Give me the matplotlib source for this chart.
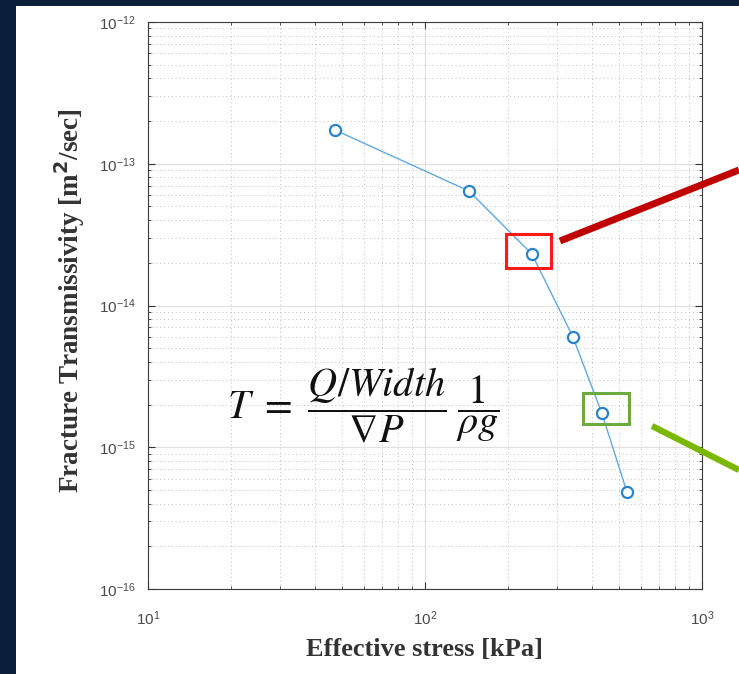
import numpy as np
import matplotlib.pyplot as plt
from matplotlib.patches import Rectangle
from matplotlib.lines import Line2D
from matplotlib.ticker import LogLocator, NullFormatter, FuncFormatter

# Measured values
stress_kpa = [47.3, 144, 243, 342, 435, 536]
transmissivity = [1.73e-13, 6.43e-14, 2.31e-14, 6.0e-15, 1.74e-15, 4.83e-16]

# Highlighted points (index into the series)
red_idx = 2
green_idx = 4

navy = (11 / 255, 31 / 255, 58 / 255)

plt.rcParams['mathtext.fontset'] = 'custom'
plt.rcParams['mathtext.rm'] = 'Liberation Sans'
plt.rcParams['mathtext.it'] = 'Liberation Sans'
plt.rcParams['font.family'] = 'Liberation Sans'

fig = plt.figure(figsize=(7.39, 6.74), dpi=100)
fig.patch.set_facecolor(navy)

# White panel behind the plot
fig.patches.append(Rectangle((16 / 739, 0), 1, 1 - 6 / 674, transform=fig.transFigure,
                             facecolor='white', edgecolor='none', zorder=-5))

ax = fig.add_axes([148 / 739, 1 - 589 / 674, 554 / 739, 567 / 674])
ax.set_facecolor('white')
ax.set_xscale('log')
ax.set_yscale('log')
ax.set_xlim(10, 1000)
ax.set_ylim(1e-16, 1e-12)

# Grid, MATLAB style
ax.grid(True, which='major', color='#e0e0e0', linewidth=0.9, linestyle='-')
ax.grid(True, which='minor', color='#bdbdbd', linewidth=0.7, linestyle=(0, (1, 3)))
ax.yaxis.set_minor_locator(LogLocator(base=10, subs=np.arange(2, 10), numticks=20))
ax.yaxis.set_minor_formatter(NullFormatter())
ax.set_axisbelow(True)

pow_fmt = FuncFormatter(lambda v, pos: r'$\mathregular{10^{%d}}$' % round(np.log10(v)))
ax.xaxis.set_major_formatter(pow_fmt)
ax.yaxis.set_major_formatter(pow_fmt)

ax.tick_params(which='both', direction='in', top=True, right=True, colors='#333333',
               labelsize=11, labelcolor='#4a4a4a')
ax.tick_params(which='major', length=5)
ax.tick_params(which='minor', length=2.5)
ax.tick_params(axis='x', pad=15)
ax.tick_params(axis='y', pad=9)
for s in ax.spines.values():
    s.set_color('#3a3a3a')
    s.set_linewidth(0.8)

ax.plot(stress_kpa, transmissivity, color='#62a8df', linewidth=1.0, marker='o',
        markersize=8, markerfacecolor='white', markeredgecolor='#2a82c9',
        markeredgewidth=1.6, zorder=3)

ax.set_xlabel('Effective stress [kPa]', family='Liberation Serif', fontweight='bold',
              fontsize=19, color='#333333', va='center')
ax.set_ylabel('Fracture Transmissivity [m$^\\mathbf{2}$/sec]', family='Liberation Serif',
              fontweight='bold', fontsize=19.5, color='#333333', va='center')
ax.xaxis.set_label_coords(0.5, -0.106)
ax.yaxis.set_label_coords(-0.141, 0.508)

# Equation
ax.text(0.388, 0.323, r'$T\ =\ \dfrac{Q/Width}{\nabla P}\;\dfrac{1}{\rho g}$',
        transform=ax.transAxes, fontsize=29, ha='center', va='center', color='#111111',
        math_fontfamily='stix')

# Highlight boxes around points, sized in pixels
def box(idx, w, h, dx, dy, color):
    x, y = ax.transData.transform((stress_kpa[idx], transmissivity[idx]))
    r = Rectangle((x - w / 2 + dx, y - h / 2 + dy), w, h, transform=None,
                  facecolor='none', edgecolor=color, linewidth=2.2, zorder=4)
    fig.patches.append(r)

box(red_idx, 45, 34, -3, 3, '#ff1a1a')
box(green_idx, 46, 31, 4, 5, '#6aaa3e')

# Callout lines leaving the figure on the right
def fig_line(x0, y0, x1, y1, color, lw):
    fig.lines.append(Line2D([x0 / 739, x1 / 739], [1 - y0 / 674, 1 - y1 / 674],
                            transform=fig.transFigure, color=color, linewidth=lw,
                            solid_capstyle='butt', zorder=5))

fig_line(560, 241, 739, 170, '#c00000', 5)
fig_line(652, 426, 739, 470, '#7ab800', 4.5)

fig.savefig('out.png', dpi=100, facecolor=fig.get_facecolor())
